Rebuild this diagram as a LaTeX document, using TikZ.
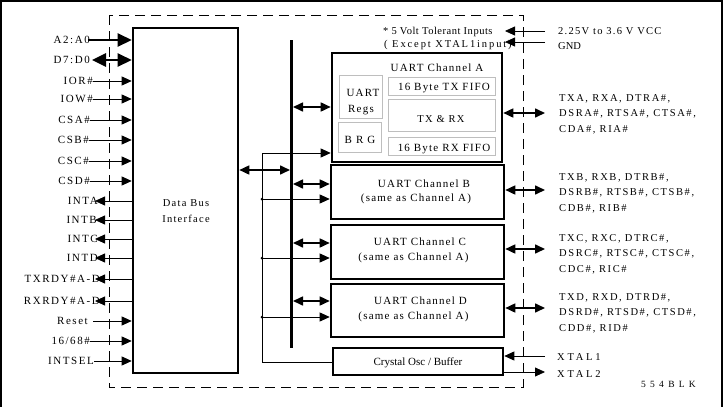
\documentclass[tikz,border=0pt]{standalone}
\usepackage{fontspec}
\setmainfont{Liberation Serif}[LetterSpace=12]
\newfontfamily\plainfont{Liberation Serif}
\newfontfamily\widefont{Liberation Serif}[LetterSpace=26]
\newfontfamily\xwidefont{Liberation Serif}[LetterSpace=45]
\usetikzlibrary{arrows.meta}
\definecolor{lgray}{RGB}{190,190,190}
\begin{document}
\begin{tikzpicture}[x=1pt,y=-1pt,
  font=\fontsize{10.5}{12}\selectfont,
  lbl/.style={inner sep=0pt},
  leftlbl/.style={lbl, anchor=east, font=\fontsize{11}{12}\selectfont\addfontfeature{LetterSpace=14}},
  chtitle/.style={lbl, font=\fontsize{11}{12}\selectfont\addfontfeature{LetterSpace=11}},
  thickbox/.style={draw, line width=2.6pt, inner sep=0pt},
  graybox/.style={draw=lgray, line width=0.8pt, inner sep=0pt},
  thinln/.style={line width=0.8pt},
  inarr/.style={line width=0.8pt, -{Triangle[length=10pt,width=9pt]}},
  dblarr/.style={line width=1.6pt, {Triangle[length=10pt,width=9pt]}-{Triangle[length=10pt,width=9pt]}},
  bigarr/.style={line width=2.6pt, -{Triangle[length=14pt,width=13pt]}},
  bigdbl/.style={line width=2.6pt, {Triangle[length=14pt,width=13pt]}-{Triangle[length=14pt,width=13pt]}},
  jdot/.style={circle, fill, inner sep=0pt, minimum size=3pt}
]
\useasboundingbox (0,0) rectangle (726,407);
% outer frame
\draw[line width=2pt] (1,407) -- (1,0.6) -- (722,0.6) -- (722,407);
% dashed chip outline
\draw[line width=0.9pt, dash pattern=on 10pt off 6pt] (109,15) rectangle (523,387);

% Data bus interface
\node[thickbox, minimum width=105pt, minimum height=345pt] (dbi) at (185.5,200.5) {};
\node[lbl] (dbt1) at (186,203) {Data Bus};
\node[lbl] (dbt2) at (186,219) {Interface};

% left signals
\node[leftlbl] (a2) at (90,40) {A2:A0};
\draw[bigarr] ([xshift=-2pt]a2.east) -- (a2.east -| dbi.west);
\node[leftlbl] (d7) at (90,60) {D7:D0};
\draw[bigdbl] ([xshift=2pt]d7.east) -- (d7.east -| dbi.west);
\node[leftlbl] (ior) at (93,81) {IOR\#};
\draw[inarr] (ior.east) -- (ior.east -| dbi.west);
\node[leftlbl] (iow) at (93,99) {IOW\#};
\draw[inarr] (iow.east) -- (iow.east -| dbi.west);
\node[leftlbl] (csa) at (90,120) {CSA\#};
\draw[inarr] (csa.east) -- (csa.east -| dbi.west);
\node[leftlbl] (csb) at (89,140) {CSB\#};
\draw[inarr] (csb.east) -- (csb.east -| dbi.west);
\node[leftlbl] (csc) at (89,161) {CSC\#};
\draw[inarr] (csc.east) -- (csc.east -| dbi.west);
\node[leftlbl] (csd) at (90,181) {CSD\#};
\draw[inarr] (csd.east) -- (csd.east -| dbi.west);
\node[leftlbl] (inta) at (98,201) {INTA};
\draw[inarr] (inta.east -| dbi.west) -- ([xshift=-3pt]inta.east);
\node[leftlbl] (intb) at (97,220) {INTB};
\draw[inarr] (intb.east -| dbi.west) -- ([xshift=-2pt]intb.east);
\node[leftlbl] (intc) at (98,239) {INTC};
\draw[inarr] (intc.east -| dbi.west) -- ([xshift=-3pt]intc.east);
\node[leftlbl] (intd) at (98,258) {INTD};
\draw[inarr] (intd.east -| dbi.west) -- ([xshift=-3pt]intd.east);
\node[leftlbl] (txr) at (100,279) {TXRDY\#A-D};
\draw[inarr] (txr.east -| dbi.west) -- ([xshift=-5pt]txr.east);
\node[leftlbl] (rxr) at (100,301) {RXRDY\#A-D};
\draw[inarr] (rxr.east -| dbi.west) -- ([xshift=-5pt]rxr.east);
\node[leftlbl] (rst) at (88,321) {Reset};
\draw[inarr] ([xshift=5pt]rst.east) -- (rst.east -| dbi.west);
\node[leftlbl] (m16) at (90,341) {16/68\#};
\draw[inarr] (m16.east) -- (m16.east -| dbi.west);
\node[leftlbl] (isel) at (94,361) {INTSEL};
\draw[inarr] (isel.east) -- (isel.east -| dbi.west);

% internal bus
\coordinate (bustop) at (291,40);
\coordinate (busbot) at (291,348);
\draw[line width=3pt] (bustop) -- (busbot);
\coordinate (dbx) at (290,170);
\draw[dblarr] (dbx -| dbi.east) -- (dbx);

% channels
\node[thickbox, minimum width=170pt, minimum height=109pt] (chA) at (417,107.5) {};
\node[chtitle] (chAt) at (437,68) {UART Channel A};
\node[graybox, minimum width=43pt, minimum height=43pt] (regs) at (360.5,96.5) {};
\node[chtitle] (regs1) at (363,93) {UART};
\node[chtitle] (regs2) at (361,110) {Regs};
\node[graybox, minimum width=43pt, minimum height=30pt] (brg) at (360,137) {};
\node[chtitle] (brgt) at (360,140) {B R G};
\node[graybox, minimum width=107pt, minimum height=18pt] (txf) at (441.5,86) {};
\node[chtitle] (txft) at (444,88) {16 Byte TX FIFO};
\node[graybox, minimum width=107pt, minimum height=32pt] (txrx) at (441.5,115) {};
\node[lbl] (txrxt) at (441,119) {TX \& RX};
\node[graybox, minimum width=107pt, minimum height=18pt] (rxf) at (441.5,146) {};
\node[chtitle] (rxft) at (444,149) {16 Byte RX FIFO};

\node[thickbox, minimum width=173pt, minimum height=54pt] (chB) at (417.5,192) {};
\node[chtitle] (chBt1) at (424,184) {UART Channel B};
\node[chtitle] (chBt2) at (416,199) {(same as Channel A)};
\node[thickbox, minimum width=173pt, minimum height=54pt] (chC) at (417.5,252) {};
\node[chtitle] (chCt1) at (420,242) {UART Channel C};
\node[chtitle] (chCt2) at (413.5,258) {(same as Channel A)};
\node[thickbox, minimum width=173pt, minimum height=53pt] (chD) at (417.5,310.5) {};
\node[chtitle] (chDt1) at (420.5,301) {UART Channel D};
\node[chtitle] (chDt2) at (413.5,317) {(same as Channel A)};
\node[thickbox, minimum width=170pt, minimum height=27pt] (xtal) at (418,361.5) {};
\node[lbl, font=\plainfont\fontsize{11}{12}\selectfont] (xtalt) at (418,363) {Crystal Osc / Buffer};

% bus to channels
\coordinate (bA) at (293,107);
\coordinate (bB) at (293,184);
\coordinate (bC) at (293,243);
\coordinate (bD) at (293,301);
\draw[dblarr] (bA) -- (bA -| chA.west);
\draw[dblarr] (bB) -- (bB -| chB.west);
\draw[dblarr] (bC) -- (bC -| chC.west);
\draw[dblarr] (bD) -- (bD -| chD.west);

% clock distribution
\coordinate (vt) at (262,153);
\coordinate (vb) at (262,362);
\node[jdot] (jB) at (262,199) {};
\node[jdot] (jC) at (262,258) {};
\node[jdot] (jD) at (262,317) {};
\draw[thinln] (vt) -- (vb) -- (vb -| xtal.west);
\draw[inarr] (vt) -- (vt -| chA.west);
\draw[inarr] (jB.center) -- (jB.center -| chB.west);
\draw[inarr] (jC.center) -- (jC.center -| chC.west);
\draw[inarr] (jD.center) -- (jD.center -| chD.west);

% power
\node[lbl, anchor=west, font=\fontsize{10.5}{12}\selectfont\addfontfeature{LetterSpace=5}] (tol) at (383,32) {* 5 Volt Tolerant Inputs};
\node[lbl, anchor=west, font=\fontsize{10.5}{12}\selectfont\addfontfeature{LetterSpace=18}] (exc) at (384,45) {( Except XTAL1input)};
\coordinate (vccR) at (545,31);
\coordinate (vccL) at (505,31);
\coordinate (gndR) at (545,42);
\coordinate (gndL) at (505,42);
\draw[inarr] (vccR) -- (vccL);
\draw[inarr] (gndR) -- (gndL);
\node[lbl, anchor=west] (vcc) at (558,31) {2.25V to 3.6 V VCC};
\node[lbl, anchor=west, font=\plainfont\fontsize{10.5}{12}\selectfont] (gnd) at (558,46) {GND};

% serial ports
\coordinate (rA) at (545,113);
\coordinate (rB) at (545,190);
\coordinate (rC) at (545,249);
\coordinate (rD) at (545,308);
\draw[dblarr] (rA -| chA.east) -- (rA);
\draw[dblarr] (rB -| chB.east) -- (rB);
\draw[dblarr] (rC -| chC.east) -- (rC);
\draw[dblarr] (rD -| chD.east) -- (rD);
\begin{scope}[every node/.style={lbl, anchor=west, align=left, font=\fontsize{10.5}{15.5}\selectfont\addfontfeature{LetterSpace=15}}]
\node (labA) at (559,114) {TXA, RXA, DTRA\#,\\DSRA\#, RTSA\#, CTSA\#,\\CDA\#, RIA\#};
\node (labB) at (559,193) {TXB, RXB, DTRB\#,\\DSRB\#, RTSB\#, CTSB\#,\\CDB\#, RIB\#};
\node (labC) at (559,254) {TXC, RXC, DTRC\#,\\DSRC\#, RTSC\#, CTSC\#,\\CDC\#, RIC\#};
\node (labD) at (559,313) {TXD, RXD, DTRD\#,\\DSRD\#, RTSD\#, CTSD\#,\\CDD\#, RID\#};
\end{scope}

% crystal pins
\coordinate (x1) at (545,356);
\coordinate (x2) at (545,372);
\draw[inarr] (x1) -- (x1 -| xtal.east);
\draw[inarr] (x2 -| xtal.east) -- (x2);
\node[lbl, anchor=west, font=\widefont\fontsize{10.5}{12}\selectfont] (x1t) at (557,357) {XTAL1};
\node[lbl, anchor=west, font=\widefont\fontsize{10.5}{12}\selectfont] (x2t) at (557,374) {XTAL2};
\node[lbl, font=\xwidefont\fontsize{9.5}{12}\selectfont] (ref) at (668.5,384) {554BLK};
\end{tikzpicture}
\end{document}
